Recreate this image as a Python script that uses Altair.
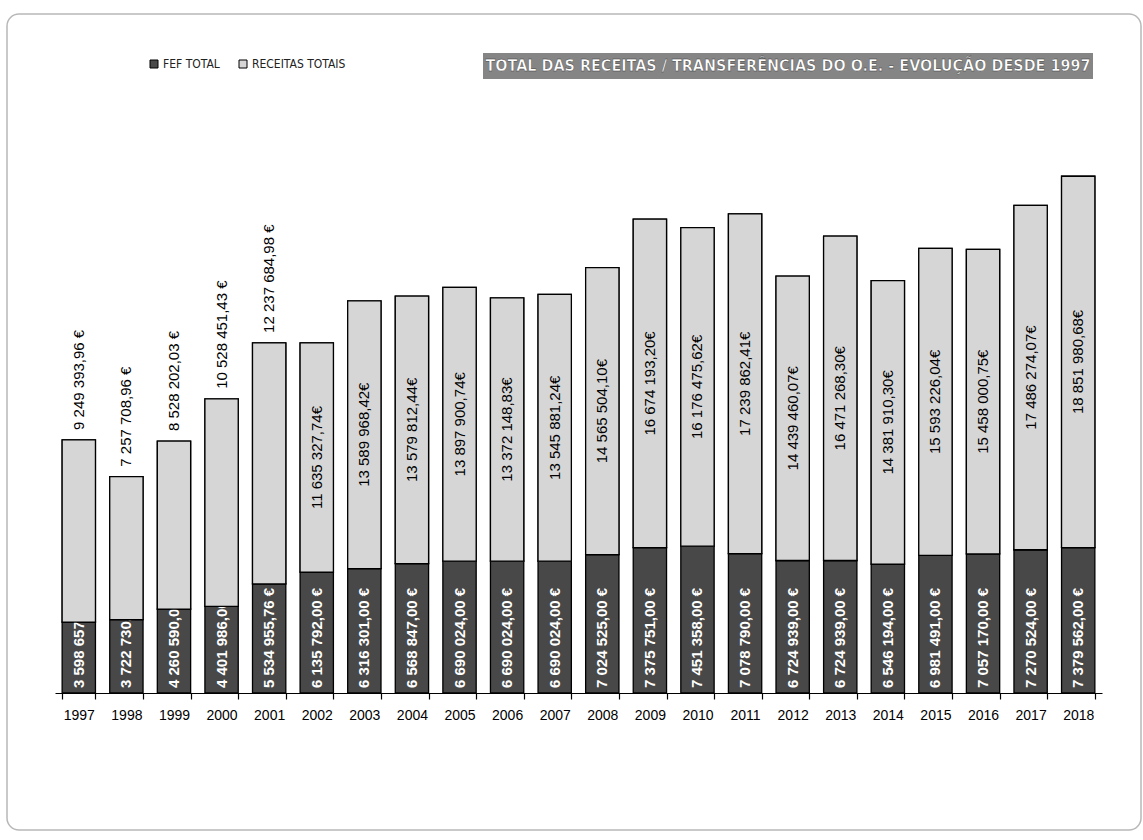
import altair as alt
import pandas as pd

years = ["1997", "1998", "1999", "2000", "2001", "2002", "2003", "2004", "2005", "2006", "2007",
         "2008", "2009", "2010", "2011", "2012", "2013", "2014", "2015", "2016", "2017", "2018"]
fef_total = [3598657.00, 3722730.00, 4260590.00, 4401986.00, 5534955.76, 6135792.00, 6316301.00,
             6568847.00, 6690024.00, 6690024.00, 6690024.00, 7024525.00, 7375751.00, 7451358.00,
             7078790.00, 6724939.00, 6724939.00, 6546194.00, 6981491.00, 7057170.00, 7270524.00,
             7379562.00]
receitas_totais = [9249393.96, 7257708.96, 8528202.03, 10528451.43, 12237684.98, 11635327.74,
                   13589968.42, 13579812.44, 13897900.74, 13372148.83, 13545881.24, 14565504.10,
                   16674193.20, 16176475.62, 17239862.41, 14439460.07, 16471268.30, 14381910.30,
                   15593226.04, 15458000.75, 17486274.07, 18851980.68]
series_names = ["FEF TOTAL", "RECEITAS TOTAIS"]
series_colors = ["#484848", "#d6d6d6"]
outside_years = ["1997", "1998", "1999", "2000", "2001"]
title_text = "TOTAL DAS RECEITAS / TRANSFERÊNCIAS DO O.E. - EVOLUÇÃO DESDE 1997"

FONT = "Liberation Sans, sans-serif"
COND = "DejaVu Sans Condensed, Liberation Sans, sans-serif"


def fmt(v, space_euro=True):
    s = f"{v:,.2f}".replace(",", " ").replace(".", ",")
    return s + (" €" if space_euro else "€")


rows = []
for yr, f, r in zip(years, fef_total, receitas_totais):
    rows.append({"year": yr, "serie": series_names[0], "start": 0, "end": f,
                 "mid": f / 2, "label": fmt(f), "pos": "in"})
    out = yr in outside_years
    rows.append({"year": yr, "serie": series_names[1], "start": f, "end": f + r,
                 "mid": f + r / 2, "label": fmt(r, space_euro=out),
                 "pos": "out" if out else "in"})
df = pd.DataFrame(rows)

base = alt.Chart(df)
x = alt.X("year:N", sort=years, title=None,
          scale=alt.Scale(paddingInner=0.3, paddingOuter=0.15),
          axis=alt.Axis(labelAngle=0, labelFont=FONT, labelFontSize=14, labelColor="black",
                        domainColor="black", domainWidth=1.2, tickColor="black", tickSize=6,
                        tickWidth=1.2, tickBand="extent", labelPadding=9, grid=False))
yscale = alt.Scale(domain=[0, 30000000])
color = alt.Color("serie:N", scale=alt.Scale(domain=series_names, range=series_colors),
                  legend=alt.Legend(title=None, orient="none", legendX=93, legendY=-44,
                                    direction="horizontal", symbolType="square", symbolSize=64,
                                    symbolStrokeColor="black", symbolStrokeWidth=1,
                                    labelFont=COND, labelFontSize=12, labelColor="#222",
                                    columnPadding=17, labelOffset=3))

bars = base.mark_bar(stroke="black", strokeWidth=1.3).encode(
    x=x, y=alt.Y("start:Q", scale=yscale, axis=None), y2="end:Q", color=color)

fef_labels = base.transform_filter(alt.datum.serie == series_names[0]).mark_text(
    angle=270, align="left", baseline="middle", dx=5, font=FONT,
    fontSize=15, fontWeight="bold", color="white").encode(
    x=x, y=alt.Y("start:Q", scale=yscale, axis=None), text="label:N")

top_bars = base.transform_filter(alt.datum.serie == series_names[1]).mark_bar(
    stroke="black", strokeWidth=1.3).encode(
    x=x, y=alt.Y("start:Q", scale=yscale, axis=None), y2="end:Q", color=color)

in_labels = base.transform_filter(
    (alt.datum.serie == series_names[1]) & (alt.datum.pos == "in")).mark_text(
    angle=270, align="center", baseline="middle", font=FONT, fontSize=15, color="black").encode(
    x=x, y=alt.Y("mid:Q", scale=yscale, axis=None), text="label:N")

out_labels = base.transform_filter(
    (alt.datum.serie == series_names[1]) & (alt.datum.pos == "out")).mark_text(
    angle=270, align="left", baseline="middle", dx=10, font=FONT, fontSize=15, color="black").encode(
    x=x, y=alt.Y("end:Q", scale=yscale, axis=None), text="label:N")

tdf = pd.DataFrame({"t": [title_text]})
title_box = alt.Chart(tdf).mark_rect(color="#858585").encode(
    x=alt.value(428), x2=alt.value(1038), y=alt.value(-49), y2=alt.value(-23))
title_txt = alt.Chart(tdf).mark_text(
    font=COND, fontSize=16, fontWeight="bold", color="white", stroke="#333",
    strokeWidth=0.4, align="center", baseline="middle").encode(
    x=alt.value(733), y=alt.value(-36), text="t:N")
border = alt.Chart(tdf).mark_rect(fillOpacity=0, stroke="#b8b8b8", strokeWidth=1.5,
                                  cornerRadius=12).encode(
    x=alt.value(-48), x2=alt.value(1086), y=alt.value(-88), y2=alt.value(728))

chart = alt.layer(border, bars, fef_labels, top_bars, in_labels, out_labels,
                  title_box, title_txt).properties(
    width=1047, height=591, autosize="none",
    padding={"left": 55, "top": 102, "right": 41, "bottom": 147},
    background="white",
).configure_view(stroke=None)

chart.save("out.html", embed_options={"renderer": "svg", "actions": False})
